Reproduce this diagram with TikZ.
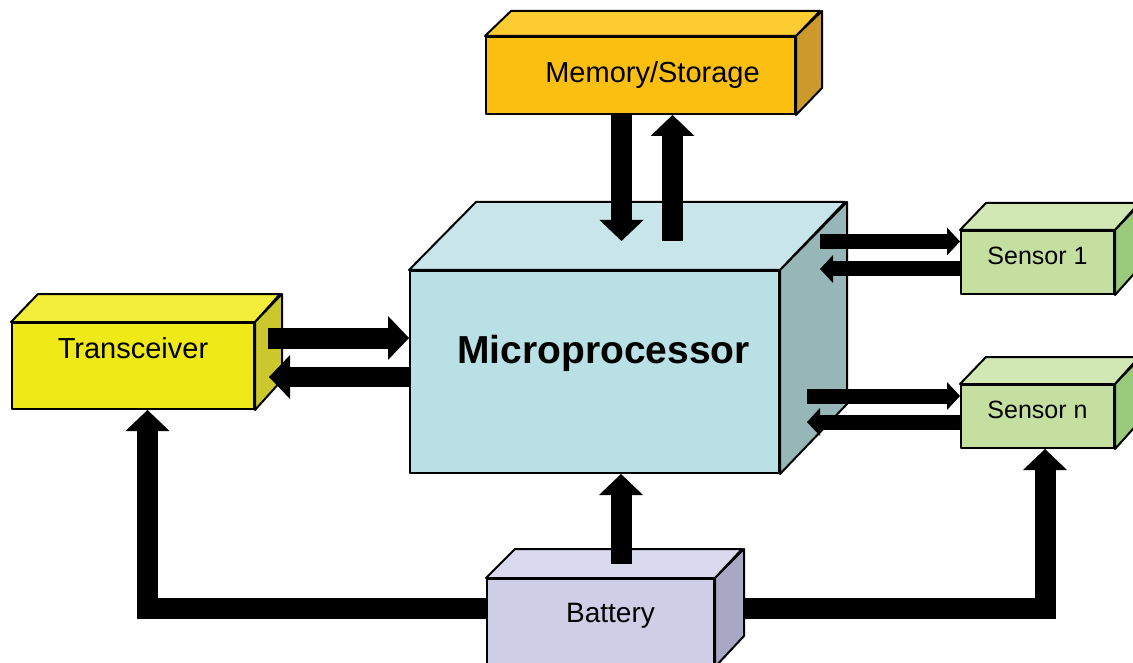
\documentclass[tikz,border=0pt]{standalone}
\usepackage{fontspec}
\setmainfont{Liberation Sans}
\usetikzlibrary{arrows.meta}

\definecolor{memfront}{HTML}{FBBF12}
\definecolor{memtop}{HTML}{FDCC33}
\definecolor{memside}{HTML}{CC9A2C}
\definecolor{mcufront}{HTML}{B9E0E4}
\definecolor{mcutop}{HTML}{C8E5EA}
\definecolor{mcuside}{HTML}{96B6B8}
\definecolor{trxfront}{HTML}{F0E918}
\definecolor{trxtop}{HTML}{F3EE3C}
\definecolor{trxside}{HTML}{CBC82E}
\definecolor{senfront}{HTML}{C4DFA0}
\definecolor{sentop}{HTML}{D1E8B4}
\definecolor{senside}{HTML}{9ACB7C}
\definecolor{batfront}{HTML}{CECEE6}
\definecolor{battop}{HTML}{DADAEF}
\definecolor{batside}{HTML}{A8A8C4}

\tikzset{
	box/.style={draw, line width=2pt, line join=round, inner sep=0pt},
	face/.style={draw, line width=2pt, line join=round},
	bigarrow/.style={line width=21pt, -{Triangle[length=21pt 0 0, width=44pt 0 0, line width=0pt 0]}},
	smallarrow/.style={line width=15pt, -{Triangle[length=13pt 0 0, width=28pt 0 0, line width=0pt 0]}}
}

\begin{document}
\begin{tikzpicture}[x=1pt, y=-1pt]
			\useasboundingbox (0,0) rectangle (1133,663);
			\clip (0,0) rectangle (1133,663);

			% front faces
			\node[box, fill=memfront, minimum width=309pt, minimum height=77pt, font=\fontsize{29}{34}\selectfont] (mem) at (640.5,75.5) {\hspace*{24pt}Memory/Storage};
			\node[box, fill=mcufront, minimum width=369pt, minimum height=202pt, text depth=46pt, font=\fontsize{39}{46}\selectfont\bfseries] (mcu) at (594.5,372) {\hspace*{18pt}Microprocessor};
			\node[box, fill=trxfront, minimum width=242pt, minimum height=86pt, text depth=36pt, font=\fontsize{29}{34}\selectfont] (trx) at (133,366) {Transceiver};
			\node[box, fill=senfront, minimum width=153pt, minimum height=63pt, text depth=14pt, font=\fontsize{25}{30}\selectfont] (s1) at (1037.5,262.5) {Sensor 1};
			\node[box, fill=senfront, minimum width=153pt, minimum height=63pt, text depth=14pt, font=\fontsize{25}{30}\selectfont] (sn) at (1037.5,416.5) {Sensor n};
			\node[box, fill=batfront, minimum width=227pt, minimum height=87pt, text depth=20pt, font=\fontsize{28}{33}\selectfont] (bat) at (600.5,622.5) {\hspace*{20pt}Battery};

			% top and side faces
			\filldraw[face, fill=memtop] (mem.north west) -- ++(26,-25) -- ++(309,0) -- (mem.north east) -- cycle;
			\filldraw[face, fill=memside] (mem.north east) -- ++(26,-25) -- ++(0,77) -- (mem.south east) -- cycle;
			\filldraw[face, fill=mcutop] (mcu.north west) -- ++(67,-68) -- ++(369,0) -- (mcu.north east) -- cycle;
			\filldraw[face, fill=mcuside] (mcu.north east) -- ++(67,-68) -- ++(0,202) -- (mcu.south east) -- cycle;
			\filldraw[face, fill=trxtop] (trx.north west) -- ++(27,-28) -- ++(242,0) -- (trx.north east) -- cycle;
			\filldraw[face, fill=trxside] (trx.north east) -- ++(27,-28) -- ++(0,86) -- (trx.south east) -- cycle;
			\filldraw[face, fill=sentop] (s1.north west) -- ++(26,-27) -- ++(153,0) -- (s1.north east) -- cycle;
			\filldraw[face, fill=senside] (s1.north east) -- ++(26,-27) -- ++(0,63) -- (s1.south east) -- cycle;
			\filldraw[face, fill=sentop] (sn.north west) -- ++(26,-27) -- ++(153,0) -- (sn.north east) -- cycle;
			\filldraw[face, fill=senside] (sn.north east) -- ++(26,-27) -- ++(0,63) -- (sn.south east) -- cycle;
			\filldraw[face, fill=battop] (bat.north west) -- ++(29,-29) -- ++(227,0) -- (bat.north east) -- cycle;
			\filldraw[face, fill=batside] (bat.north east) -- ++(29,-29) -- ++(0,87) -- (bat.south east) -- cycle;

			% data arrows
			\draw[bigarrow] ([xshift=-19pt]mem.south) -- ([xshift=27pt,yshift=29pt]mcu.north);
			\draw[bigarrow] ([xshift=78pt,yshift=29pt]mcu.north) -- ([xshift=32pt]mem.south);
			\draw[bigarrow] ([xshift=13pt,yshift=28pt]trx.east) -- ([yshift=34pt]mcu.west);
			\draw[bigarrow, line width=20pt] ([yshift=-5pt]mcu.west) -- ([xshift=14pt,yshift=-11pt]trx.east);
			\draw[smallarrow] ([xshift=40pt,yshift=130.5pt]mcu.east) -- ([yshift=21pt]s1.west);
			\draw[smallarrow] ([yshift=-6.5pt]s1.west) -- ([xshift=40pt,yshift=103pt]mcu.east);
			\draw[smallarrow] ([xshift=27pt,yshift=-24pt]mcu.east) -- ([yshift=20.5pt]sn.west);
			\draw[smallarrow] ([yshift=-5.5pt]sn.west) -- ([xshift=27pt,yshift=-50pt]mcu.east);

			% power lines
			\draw[bigarrow] ([xshift=20.5pt,yshift=14pt]bat.north) -- ([xshift=26.5pt]mcu.south);
			\draw[bigarrow] ([yshift=14pt]bat.west) -| ([xshift=14.5pt]trx.south);
			\draw[bigarrow] ([xshift=29pt,yshift=14pt]bat.east) -| ([xshift=7.5pt]sn.south);

		\end{tikzpicture}
\end{document}
